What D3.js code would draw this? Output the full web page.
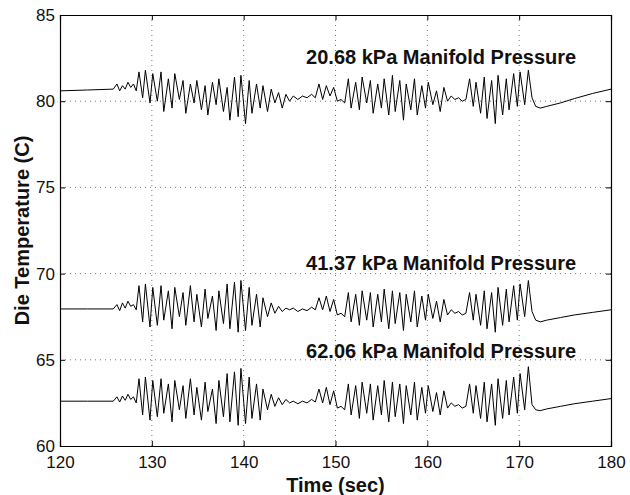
<!DOCTYPE html>
<html>
<head>
<meta charset="utf-8">
<script src="https://cdn.jsdelivr.net/npm/d3@7"></script>
<style>
  body { margin: 0; background: #fff; }
  svg { display: block; font-family: "Liberation Sans", Arial, sans-serif; }
  .grid line { stroke: #555; stroke-dasharray: 1,4; stroke-width: 0.8; }
  .trace { fill: none; stroke: #000; stroke-width: 1; stroke-linejoin: round; }
</style>
</head>
<body>
<svg id="chart" width="630" height="495"></svg>
<script>
// Time base (sec) shared by all three traces
const times = [
  120, 123, 125.8, 126.2, 126.5, 126.8, 127.1, 127.4, 127.7, 128.0, 128.3,
  128.6, 129.0, 129.3, 129.8, 130.1, 130.6, 131.0, 131.3, 131.8, 132.2,
  132.5, 133.0, 133.4, 133.7, 134.2, 134.6, 134.9, 135.4, 135.8, 136.1,
  136.6, 137.0, 137.3, 137.8, 138.2, 138.5, 139.0, 139.4, 139.7, 140.2,
  140.6, 140.9, 141.4, 141.8, 142.1, 142.6, 143.0, 143.4, 143.8, 144.2,
  144.6, 145.0, 145.4,
  145.9, 146.4, 146.9, 147.4, 147.8,
  148.2, 148.6, 149.0, 149.4, 149.8, 150.2, 150.6, 151.0, 151.4, 151.7,
  152.2, 152.6, 152.9, 153.4, 153.8, 154.1, 154.6, 155.0, 155.3, 155.8,
  156.2, 156.5, 157.0, 157.4, 157.7, 158.2, 158.6, 158.9, 159.4, 159.8,
  160.1, 160.6, 161.0, 161.4, 161.8, 162.2, 162.6, 163.0, 163.4, 163.8,
  164.2, 164.6, 165.0, 165.3, 165.8, 166.2, 166.5, 167.0, 167.4, 167.7,
  168.2, 168.6, 168.9, 169.4, 169.8, 170.1, 170.6, 171.0, 171.4,
  171.8, 172.3, 173, 174.5, 176, 178, 180
];

// Die temperature (C), 20.68 kPa manifold pressure
const temp2068 = [
  80.6, 80.65, 80.7, 81.0, 80.6, 80.9, 80.7, 81.1, 80.8, 81.0, 80.6,
  81.7, 80.2, 81.8, 79.9, 81.6, 80.0, 81.7, 79.4, 81.3, 79.6,
  81.6, 80.1, 81.2, 79.3, 81.0, 79.9, 81.2, 79.5, 80.9, 79.2,
  81.1, 79.8, 81.3, 79.4, 80.8, 78.9, 81.4, 79.1, 81.5, 78.7,
  81.2, 79.3, 81.0, 79.6, 80.9, 79.4, 80.7, 79.9, 80.5, 79.6,
  80.4, 80.0, 80.3,
  80.1, 80.3, 80.2, 80.4, 80.2,
  81.0, 80.1, 80.9, 80.3, 80.8, 80.0, 80.1, 79.9, 81.3, 79.6,
  81.1, 79.5, 81.4, 79.9, 81.2, 79.3, 81.0, 79.6, 81.3, 79.2,
  81.5, 79.4, 81.2, 78.9, 81.0, 79.5, 81.3, 79.2, 80.9, 79.6,
  81.1, 79.8, 80.6, 79.4, 80.8, 80.0, 80.3, 80.1, 80.2, 80.0,
  80.1, 81.3, 79.7, 81.1, 79.3, 81.4, 79.0, 81.2, 78.7, 81.5,
  79.2, 81.3, 79.5, 81.6, 79.7, 81.7, 79.8, 81.8, 80.2,
  79.7, 79.6, 79.7, 79.9, 80.15, 80.45, 80.7
];

// Die temperature (C), 41.37 kPa manifold pressure
const temp4137 = [
  67.95, 67.95, 67.95, 68.2, 67.85, 68.3, 68.0, 68.4, 68.1, 68.2, 67.9,
  69.3, 67.2, 69.4, 66.9, 69.2, 67.0, 69.3, 67.3, 69.0, 66.8,
  69.2, 67.5, 68.9, 67.0, 69.3, 67.2, 68.8, 66.9, 69.1, 67.4,
  68.7, 66.7, 69.0, 67.1, 69.4, 66.8, 69.5, 66.6, 69.6, 66.7,
  69.2, 67.0, 68.8, 66.9, 68.6, 67.5, 68.3, 67.7, 68.1, 67.8,
  68.0, 67.9, 68.0,
  67.8, 67.95, 67.85, 68.05, 67.9,
  68.6, 67.9, 68.7, 67.8, 68.5, 67.6, 67.7, 67.5, 68.9, 67.2,
  68.8, 67.0, 69.0, 67.3, 68.9, 66.9, 68.8, 67.2, 69.1, 66.8,
  69.0, 67.1, 68.9, 66.7, 68.8, 67.2, 69.0, 66.9, 68.7, 67.3,
  68.8, 67.4, 68.4, 67.2, 68.5, 67.6, 67.9, 67.7, 67.8, 67.6,
  67.7, 68.9, 67.3, 68.8, 67.0, 69.0, 66.8, 68.9, 66.6, 69.2,
  67.0, 69.1, 67.2, 69.3, 67.3, 69.4, 67.5, 69.6, 67.8,
  67.3, 67.2, 67.3, 67.45, 67.6, 67.75, 67.9
];

// Die temperature (C), 62.06 kPa manifold pressure
const temp6206 = [
  62.6, 62.6, 62.6, 62.85, 62.55, 62.9, 62.65, 63.0, 62.7, 62.85, 62.5,
  63.9, 61.8, 64.0, 61.5, 63.8, 61.7, 63.9, 61.9, 63.6, 61.4,
  63.8, 62.1, 63.5, 61.6, 63.9, 61.8, 63.4, 61.5, 63.7, 62.0,
  63.3, 61.3, 63.8, 61.7, 64.2, 61.4, 64.3, 61.2, 64.5, 61.3,
  64.0, 61.6, 63.6, 61.5, 63.3, 62.1, 63.0, 62.3, 62.8, 62.4,
  62.7, 62.5, 62.6,
  62.45, 62.6, 62.5, 62.7, 62.55,
  63.3, 62.5, 63.4, 62.4, 63.2, 62.2, 62.3, 62.1, 63.6, 61.8,
  63.5, 61.6, 63.7, 61.9, 63.6, 61.5, 63.5, 61.8, 63.8, 61.4,
  63.7, 61.7, 63.6, 61.3, 63.5, 61.8, 63.7, 61.5, 63.4, 61.9,
  63.5, 62.0, 63.1, 61.8, 63.2, 62.2, 62.5, 62.3, 62.4, 62.2,
  62.3, 63.6, 61.9, 63.5, 61.6, 63.7, 61.4, 63.6, 61.2, 63.9,
  61.6, 63.8, 61.8, 64.0, 61.9, 64.2, 62.1, 64.6, 62.4,
  62.1, 62.05, 62.15, 62.3, 62.45, 62.6, 62.75
];

const series = [temp2068, temp4137, temp6206];
const labels = ['20.68 kPa Manifold Pressure', '41.37 kPa Manifold Pressure', '62.06 kPa Manifold Pressure'];
const labelPos = [[146.8, 82.15], [146.8, 70.2], [146.8, 65.1]];

const xTicks = [120, 130, 140, 150, 160, 170, 180];
const yTicks = [60, 65, 70, 75, 80, 85];

const margin = { left: 60, right: 19, top: 15, bottom: 49 };
const width = 630, height = 495;
const svg = d3.select('#chart');

const x = d3.scaleLinear().domain([120, 180]).range([margin.left, width - margin.right]);
const y = d3.scaleLinear().domain([60, 85]).range([height - margin.bottom, margin.top]);

// dotted grid
const grid = svg.append('g').attr('class', 'grid');
grid.selectAll('.gx').data(xTicks.slice(1, -1)).join('line')
  .attr('x1', (d) => x(d)).attr('x2', (d) => x(d))
  .attr('y1', y(60)).attr('y2', y(85));
grid.selectAll('.gy').data(yTicks.slice(1, -1)).join('line')
  .attr('y1', (d) => y(d)).attr('y2', (d) => y(d))
  .attr('x1', x(120)).attr('x2', x(180));

// traces
const line = d3.line().x((d, i) => x(times[i])).y((d) => y(d));
series.forEach((s) => {
  svg.append('path').attr('class', 'trace').attr('d', line(s));
});

// series labels
svg.selectAll('.lbl').data(labels).join('text')
  .attr('class', 'lbl')
  .attr('x', (d, i) => x(labelPos[i][0]))
  .attr('y', (d, i) => y(labelPos[i][1]))
  .style('font-size', '20px')
  .style('font-weight', 'bold')
  .style('fill', '#111')
  .text((d) => d);

// axes (ticks inward on all sides, MATLAB-ish box)
const tickLen = 5;
const axBottom = svg.append('g').attr('transform', `translate(0,${y(60)})`)
  .call(d3.axisBottom(x).tickValues(xTicks).tickSize(-tickLen).tickPadding(10));
const axTop = svg.append('g').attr('transform', `translate(0,${y(85)})`)
  .call(d3.axisTop(x).tickValues(xTicks).tickSize(-tickLen).tickFormat(''));
const axLeft = svg.append('g').attr('transform', `translate(${x(120)},0)`)
  .call(d3.axisLeft(y).tickValues(yTicks).tickSize(-tickLen).tickPadding(5));
const axRight = svg.append('g').attr('transform', `translate(${x(180)},0)`)
  .call(d3.axisRight(y).tickValues(yTicks).tickSize(-tickLen).tickFormat(''));

[axBottom, axTop, axLeft, axRight].forEach((g) => {
  g.select('.domain').attr('stroke', '#000').attr('stroke-width', 1.2);
  g.selectAll('.tick line').attr('stroke', '#000');
  g.selectAll('text').style('font-size', '17px').style('fill', '#111')
    .style('font-family', '"Liberation Sans", Arial, sans-serif');
});

// axis titles
svg.append('text')
  .attr('x', (x(120) + x(180)) / 2)
  .attr('y', 492)
  .attr('text-anchor', 'middle')
  .style('font-size', '20px').style('font-weight', 'bold').style('fill', '#111')
  .text('Time (sec)');

svg.append('text')
  .attr('transform', 'rotate(-90)')
  .attr('x', -(y(60) + y(85)) / 2)
  .attr('y', 29)
  .attr('text-anchor', 'middle')
  .style('font-size', '20px').style('font-weight', 'bold').style('fill', '#111')
  .text('Die Temperature (C)');
</script>
</body>
</html>
